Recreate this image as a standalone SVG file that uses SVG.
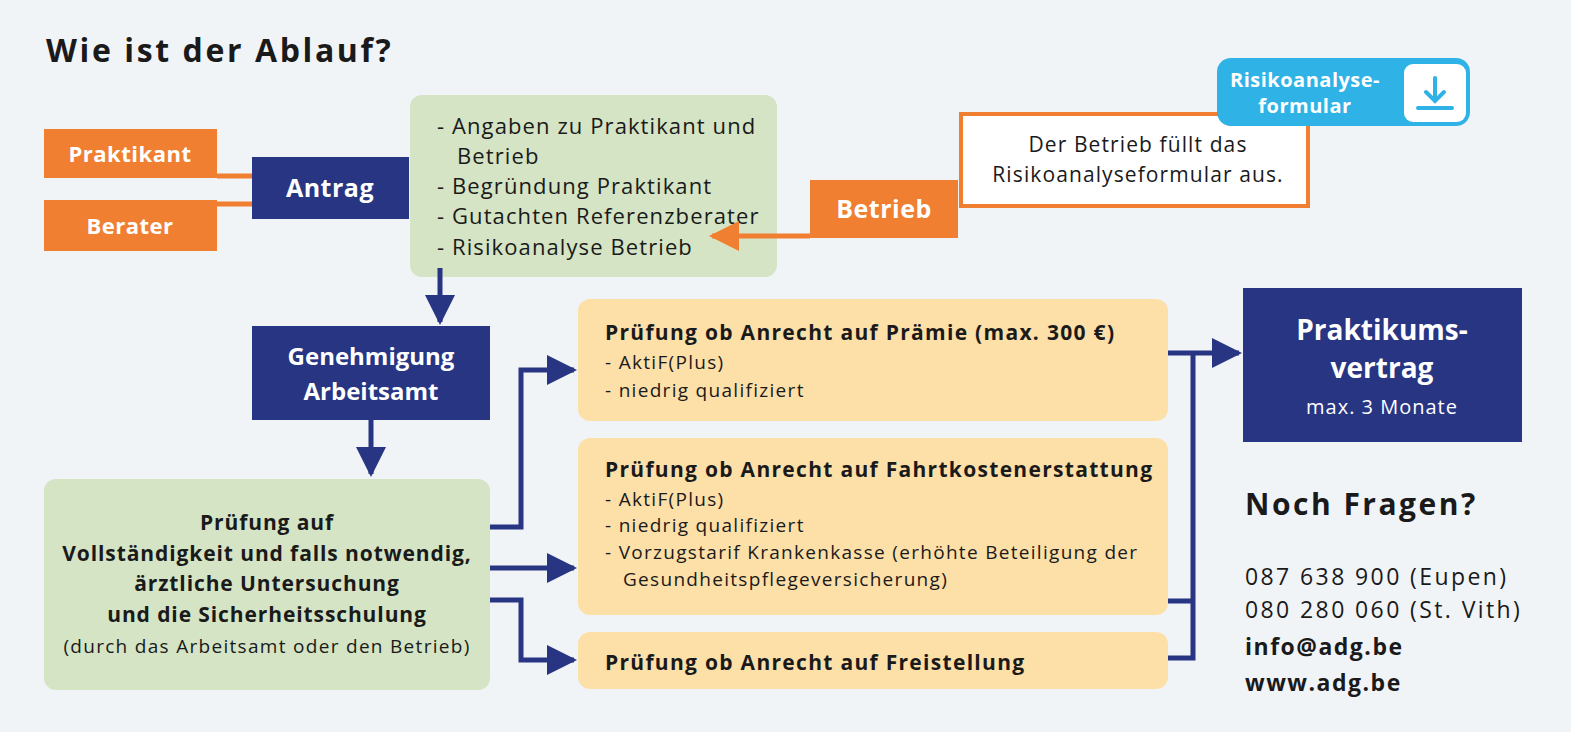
<svg xmlns="http://www.w3.org/2000/svg" width="1571" height="732" viewBox="0 0 1571 732">
<defs>
<style>
text{font-family:"Open Sans","Noto Sans",sans-serif;}
.b{font-weight:bold}
.w{fill:#fff}
.d{fill:#1a1a1a}
.or{fill:#f07f32}
.nv{fill:#283583}
.gr{fill:#d4e4c4}
.ye{fill:#fddfa8}
.ln{stroke:#283583;stroke-width:5;fill:none}
</style>
<marker id="ah" viewBox="0 0 10 10" refX="9" refY="5" markerWidth="6" markerHeight="6" markerUnits="strokeWidth" orient="auto"><path d="M0,0L10,5L0,10z" fill="#283583"/></marker>
<marker id="ao" viewBox="0 0 10 10" refX="9" refY="5" markerWidth="7" markerHeight="6" markerUnits="strokeWidth" orient="auto"><path d="M0,0L10,5L0,10z" fill="#f07f32"/></marker>
</defs>
<rect width="1571" height="732" fill="#f1f4f7"/>
<text x="46" y="62" font-size="32" letter-spacing="2.6" class="b d">Wie ist der Ablauf?</text>
<g id="praktikant"><rect x="44" y="129" width="173" height="49" class="or"/><text x="130" y="162" font-size="22" letter-spacing="0.5" class="b w" text-anchor="middle">Praktikant</text></g>
<g id="berater"><rect x="44" y="200" width="173" height="51" class="or"/><text x="130" y="234" font-size="22" letter-spacing="0.5" class="b w" text-anchor="middle">Berater</text></g>
<g id="antrag"><rect x="252" y="157" width="157" height="62" class="nv"/><text x="330" y="197" font-size="25" letter-spacing="0.5" class="b w" text-anchor="middle">Antrag</text></g>
<g id="angaben"><rect x="410" y="95" width="367" height="182" rx="12" class="gr"/>
<text font-size="22" letter-spacing="1.1" class="d"><tspan x="437" y="134">- Angaben zu Praktikant und</tspan><tspan x="457" y="164">Betrieb</tspan><tspan x="437" y="194">- Begründung Praktikant</tspan><tspan x="437" y="224">- Gutachten Referenzberater</tspan><tspan x="437" y="255">- Risikoanalyse Betrieb</tspan></text></g>
<g id="risikoinfo"><rect x="961" y="114" width="347" height="92" fill="#fff" stroke="#f07f32" stroke-width="4"/>
<text font-size="21" letter-spacing="1.1" class="d" text-anchor="middle"><tspan x="1138" y="152">Der Betrieb füllt das</tspan><tspan x="1138" y="182">Risikoanalyseformular aus.</tspan></text></g>
<g id="betrieb"><rect x="810" y="180" width="148" height="58" class="or"/><text x="884" y="218" font-size="25" letter-spacing="0.5" class="b w" text-anchor="middle">Betrieb</text></g>
<g id="download"><rect x="1217" y="58" width="253" height="68" rx="14" fill="#2fb2e6"/>
<text font-size="20" letter-spacing="0.5" class="b w" text-anchor="middle"><tspan x="1305" y="87">Risikoanalyse-</tspan><tspan x="1305" y="113">formular</tspan></text>
<rect x="1404" y="64" width="62" height="58" rx="9" fill="#fff"/>
<path d="M1435,78V101M1426,92L1435,101L1444,92M1418,108H1452" stroke="#2fb2e6" stroke-width="4" fill="none" stroke-linecap="round"/></g>
<g id="genehmigung"><rect x="252" y="326" width="238" height="94" class="nv"/><text font-size="24" class="b w" text-anchor="middle"><tspan x="371" y="365">Genehmigung</tspan><tspan x="371" y="400">Arbeitsamt</tspan></text></g>
<g id="pruefung"><rect x="44" y="479" width="446" height="211" rx="12" class="gr"/>
<text font-size="21" letter-spacing="0.9" class="b d" text-anchor="middle"><tspan x="267" y="530">Prüfung auf</tspan><tspan x="267" y="561">Vollständigkeit und falls notwendig,</tspan><tspan x="267" y="591">ärztliche Untersuchung</tspan><tspan x="267" y="622">und die Sicherheitsschulung</tspan></text>
<text x="267" y="653" font-size="19" letter-spacing="1.3" class="d" text-anchor="middle">(durch das Arbeitsamt oder den Betrieb)</text></g>
<g id="praemie"><rect x="578" y="299" width="590" height="122" rx="12" class="ye"/>
<text x="605" y="340" font-size="21" letter-spacing="1.3" class="b d">Prüfung ob Anrecht auf Prämie (max. 300 €)</text>
<text font-size="19" letter-spacing="1.3" class="d"><tspan x="605" y="369">- AktiF(Plus)</tspan><tspan x="605" y="397">- niedrig qualifiziert</tspan></text></g>
<g id="fahrt"><rect x="578" y="438" width="590" height="177" rx="12" class="ye"/>
<text x="605" y="477" font-size="21" letter-spacing="1.3" class="b d">Prüfung ob Anrecht auf Fahrtkostenerstattung</text>
<text font-size="19" letter-spacing="1.3" class="d"><tspan x="605" y="506">- AktiF(Plus)</tspan><tspan x="605" y="532">- niedrig qualifiziert</tspan><tspan x="605" y="559">- Vorzugstarif Krankenkasse (erhöhte Beteiligung der</tspan><tspan x="623" y="586">Gesundheitspflegeversicherung)</tspan></text></g>
<g id="freistellung"><rect x="578" y="632" width="590" height="57" rx="12" class="ye"/>
<text x="605" y="670" font-size="21" letter-spacing="1.3" class="b d">Prüfung ob Anrecht auf Freistellung</text></g>
<g id="vertrag"><rect x="1243" y="288" width="279" height="154" class="nv"/>
<text font-size="28" class="b w" text-anchor="middle"><tspan x="1382" y="340">Praktikums-</tspan><tspan x="1382" y="378">vertrag</tspan></text>
<text x="1382" y="414" font-size="20" letter-spacing="1" class="w" text-anchor="middle">max. 3 Monate</text></g>
<g id="kontakt">
<text x="1245" y="515" font-size="30" letter-spacing="2.5" class="b d">Noch Fragen?</text>
<text font-size="23" letter-spacing="2.4" class="d"><tspan x="1245" y="585">087 638 900 (Eupen)</tspan><tspan x="1245" y="618">080 280 060 (St. Vith)</tspan></text>
<text font-size="23" letter-spacing="1.5" class="b d"><tspan x="1245" y="655">info@adg.be</tspan><tspan x="1245" y="691">www.adg.be</tspan></text></g>
<g id="connectors">
<path d="M217,176H252M217,204H252" stroke="#f07f32" stroke-width="5"/>
<path d="M810,236H712" stroke="#f07f32" stroke-width="5" marker-end="url(#ao)"/>
<path class="ln" d="M440,268V322" marker-end="url(#ah)"/>
<path class="ln" d="M371,420V474" marker-end="url(#ah)"/>
<path class="ln" d="M490,527H521V370H574" marker-end="url(#ah)"/>
<path class="ln" d="M490,568H574" marker-end="url(#ah)"/>
<path class="ln" d="M490,600H521V660H574" marker-end="url(#ah)"/>
<path class="ln" d="M1168,353H1239" marker-end="url(#ah)"/>
<path class="ln" d="M1193,353V658H1168M1168,601H1193"/>
</g>
</svg>
